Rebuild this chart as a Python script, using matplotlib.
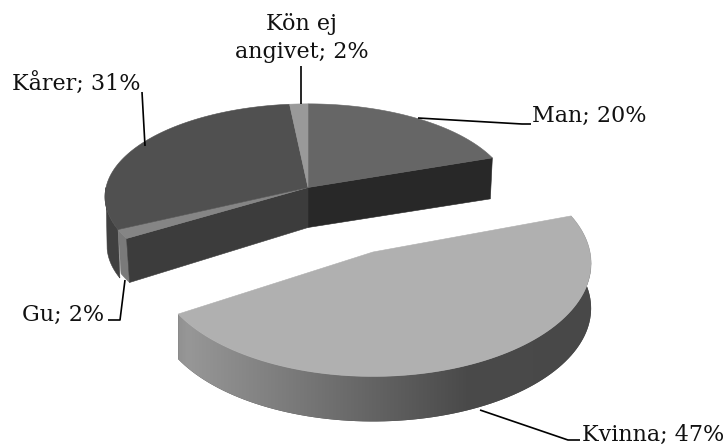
from __future__ import annotations

import matplotlib

matplotlib.use("Agg")

import matplotlib.pyplot as mp
import numpy as np
from matplotlib.colors import LinearSegmentedColormap
from matplotlib.patches import Polygon

# rounding gives the printed percentages
categories = ["Man", "Kvinna", "Gu", "Kårer", "Kön ej\nangivet"]
shares = [19.6, 46.6, 1.6, 30.6, 1.6]
share_labels = ["20%", "47%", "2%", "31%", "2%"]

top_colors = ["#666666", "#b0b0b0", "#858585", "#505050", "#999999"]

# {{{ projection


def project(theta, center, rx, ry, persp=0.1):
    x = np.sin(theta)
    y = np.cos(theta)
    s = 1.0 / (1.0 + persp * y)
    return center[0] + rx * x * s, center[1] - ry * y * s


def arc(t0, t1, center, rx, ry):
    theta = np.linspace(t0, t1, 100)
    x, y = project(theta, center, rx, ry)
    return np.column_stack([x, y])


def add_poly(ax, points, color, zorder, lw=0.4):
    patch = Polygon(
        points, closed=True, facecolor=color, edgecolor=color, lw=lw, zorder=zorder
    )
    ax.add_patch(patch)
    return patch


# }}}

fig = mp.figure(figsize=(7.28, 4.46), dpi=100)
ax = fig.add_axes([0, 0, 1, 1])

main = {"center": (308, 187.5), "rx": 202, "ry": 92}
lower = {"center": (308, 236), "rx": 200, "ry": 92}
depth = 40

edges = 2.0 * np.pi * np.cumsum([0.0] + shares) / sum(shares)
t_man, t_kv, t_gu, t_ka, t_ko = edges[1:]

# left wall of the back part: Kårer, then Gu
add_poly(
    ax,
    np.vstack(
        [arc(t_gu, 1.5 * np.pi, **main), arc(np.radians(262), t_gu, **lower)]
    ),
    "#404040",
    1,
)
rim = arc(t_kv, t_gu, **main)
add_poly(ax, np.vstack([rim, rim[::-1] + [3, 44]]), "#7a7a7a", 2)

# cut faces
cx, cy = main["center"]
end = arc(t_man, t_man, **main)[0]
add_poly(ax, [(cx, cy), end, end + [-2, 41], (cx, cy + depth)], "#282828", 3)
end = arc(t_kv, t_kv, **main)[0]
add_poly(ax, [(cx, cy), end, end + [3, 44], (cx, cy + depth)], "#3c3c3c", 3)

# top faces of the back part
for i in (0, 2, 3, 4):
    points = np.vstack([[main["center"]], arc(edges[i], edges[i + 1], **main)])
    add_poly(ax, points, top_colors[i], 4)

# exploded Kvinna slice, the wall is one horizontal gradient clipped to its outline
kvinna = {"center": (373, 252), "rx": 217, "ry": 112}
kv_depth = 45
rim = arc(t_man, t_kv, **kvinna)
wall = add_poly(ax, np.vstack([rim, rim[::-1] + [0, kv_depth]]), "#4a4a4a", 5, lw=0)
wall_cmap = LinearSegmentedColormap.from_list(
    "wall",
    [(0.0, "#8c8c8c"), (0.04, "#979797"), (0.69, "#4a4a4a"), (1.0, "#484848")],
)
image = ax.imshow(
    np.linspace(0, 1, 256).reshape(1, -1),
    extent=(170, 600, 430, 260),
    cmap=wall_cmap,
    aspect="auto",
    interpolation="bilinear",
    zorder=5.5,
)
image.set_clip_path(wall)
add_poly(ax, np.vstack([[kvinna["center"]], rim]), top_colors[1], 6)

ax.set_xlim(0, 728)
ax.set_ylim(446, 0)
ax.axis("off")

# leader lines
leaders = [
    ([418, 522, 531], [118, 124, 124]),
    ([480, 568, 580], [410, 440, 440]),
    ([125, 120, 108], [280, 320, 320]),
    ([142, 145], [92, 146]),
    ([301, 301], [66, 104]),
]
for xs, ys in leaders:
    ax.plot(xs, ys, color="black", lw=1.2, zorder=7, solid_capstyle="butt")

# labels
positions = [(532, 116), (582, 435), (22, 315), (12, 84), (302, 38)]
aligns = ["left", "left", "left", "left", "center"]
for name, share, pos, ha in zip(categories, share_labels, positions, aligns):
    ax.text(
        pos[0], pos[1], f"{name}; {share}",
        family="DejaVu Serif", fontsize=16, color="#111111",
        ha=ha, va="center", linespacing=1.35, zorder=8,
    )

fig.savefig("out.png", dpi=100)
